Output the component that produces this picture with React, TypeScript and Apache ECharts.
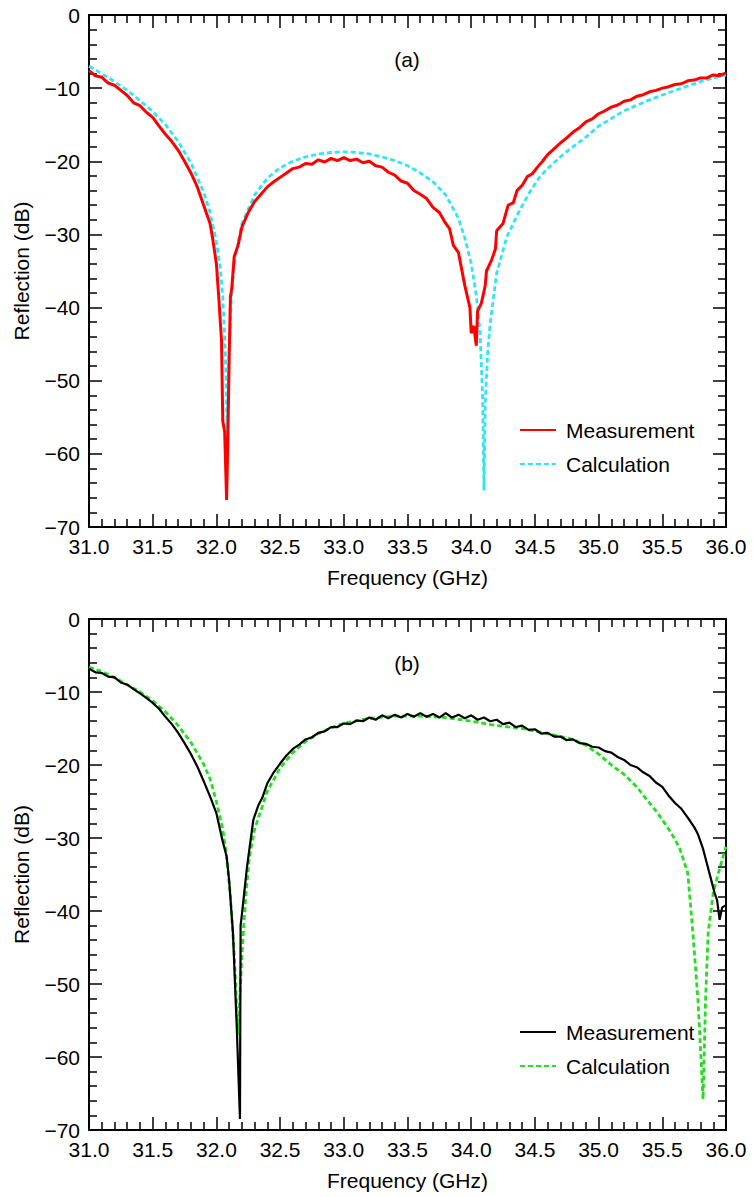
import { useEffect, useRef } from 'react';
import * as echarts from 'echarts';

// ---------- Data ----------
const X_MIN = 31.0;
const X_MAX = 36.0;
const X_STEP = 0.5;
const Y_MIN = -70;
const Y_MAX = 0;
const Y_STEP = 10;

// Panel (a) measurement (red)
const measAFreq = [
  31.0, 31.05, 31.1, 31.15, 31.2, 31.25, 31.3, 31.35, 31.4, 31.45, 31.5, 31.55, 31.6, 31.65, 31.7, 31.75,
  31.8, 31.85, 31.9, 31.95, 31.97, 32.0, 32.02, 32.04, 32.05, 32.065, 32.08, 32.09, 32.1, 32.11, 32.12,
  32.14, 32.17, 32.2, 32.25, 32.3, 32.35, 32.4, 32.45, 32.5, 32.55, 32.6, 32.65, 32.7, 32.75, 32.8, 32.85,
  32.9, 32.95, 33.0, 33.05, 33.1, 33.15, 33.2, 33.25, 33.3, 33.35, 33.4, 33.45, 33.5, 33.55, 33.6, 33.65,
  33.7, 33.75, 33.8, 33.83, 33.86, 33.9, 33.95, 33.99, 34.0, 34.02, 34.04, 34.05, 34.08, 34.11, 34.12,
  34.16, 34.19, 34.2, 34.25, 34.29, 34.33, 34.36, 34.4, 34.44, 34.48, 34.52, 34.56, 34.6, 34.65, 34.7,
  34.75, 34.8, 34.85, 34.9, 34.95, 35.0, 35.05, 35.1, 35.15, 35.2, 35.25, 35.3, 35.35, 35.4, 35.45, 35.5,
  35.55, 35.6, 35.65, 35.7, 35.75, 35.8, 35.85, 35.9, 35.95, 36.0,
];
const measADb = [
  -7.6, -8.3, -8.5, -9.3, -9.6, -10.3, -11.0, -12.0, -12.4, -13.3, -14.0, -15.2, -16.3, -17.3, -18.5, -20.0,
  -21.6, -23.5, -26.0, -28.5, -30.5, -34.0, -39.0, -44.5, -55.5, -57.0, -66.3, -58.0, -47.0, -38.5, -37.5,
  -33.0, -31.5, -29.0, -27.0, -25.5, -24.5, -23.5, -22.8, -22.2, -21.6, -21.0, -20.8, -20.3, -20.4, -19.8, -20.1,
  -19.6, -19.9, -19.5, -19.9, -19.7, -20.2, -20.0, -20.6, -20.8, -21.5, -21.9, -22.7, -23.0, -24.0, -24.5, -25.1,
  -26.3, -27.0, -28.5, -29.2, -31.5, -32.5, -37.0, -40.0, -43.5, -42.5, -45.2, -40.5, -39.4, -37.0, -35.0,
  -33.5, -32.0, -29.5, -28.5, -26.0, -25.7, -24.0, -23.3, -22.1, -21.7, -20.8, -20.0, -19.1, -18.3, -17.5,
  -16.8, -16.0, -15.4, -14.6, -14.2, -13.5, -13.1, -12.6, -12.3, -11.8, -11.6, -11.1, -10.9, -10.5, -10.3, -10.0,
  -9.8, -9.5, -9.4, -9.0, -8.9, -8.6, -8.6, -8.2, -8.3, -7.9,
];

// Panel (a) calculation (cyan)
const calcAFreq = [
  31.0, 31.1, 31.2, 31.3, 31.4, 31.5, 31.6, 31.7, 31.8, 31.9, 31.95, 32.0, 32.03, 32.05, 32.07, 32.085,
  32.1, 32.12, 32.15, 32.2, 32.3, 32.4, 32.5, 32.6, 32.7, 32.8, 32.9, 33.0, 33.1, 33.2, 33.3, 33.4, 33.5,
  33.6, 33.7, 33.8, 33.9, 33.95, 34.0, 34.04, 34.07, 34.09, 34.1, 34.11, 34.13, 34.15, 34.2, 34.28, 34.38,
  34.46, 34.54, 34.6, 34.7, 34.8, 34.9, 35.0, 35.2, 35.4, 35.6, 35.8, 36.0,
];
const calcADb = [
  -7.0, -8.0, -9.1, -10.3, -11.7, -13.2, -15.0, -17.3, -20.2, -24.2, -27.0, -31.0, -34.5, -38.5, -46.0, -57.0,
  -46.0, -38.0, -33.0, -28.5, -24.6, -22.3, -20.9, -20.0, -19.4, -19.0, -18.8, -18.7, -18.8, -19.0, -19.4, -19.9, -20.6,
  -21.6, -22.8, -24.6, -27.8, -30.5, -34.0, -38.3, -43.5, -52.6, -65.0, -53.0, -46.0, -42.0, -35.3, -30.3, -26.7,
  -24.2, -22.1, -21.0, -19.4, -18.0, -16.7, -15.2, -13.1, -11.6, -10.3, -9.1, -8.2,
];

// Panel (b) measurement (black)
const measBFreq = [
  31.0, 31.05, 31.1, 31.15, 31.2, 31.25, 31.3, 31.35, 31.4, 31.45, 31.5, 31.55, 31.6, 31.65, 31.7, 31.75,
  31.8, 31.85, 31.9, 31.95, 32.0, 32.05, 32.08, 32.1, 32.13, 32.16, 32.185, 32.19, 32.2, 32.24, 32.29,
  32.33, 32.36, 32.4, 32.45, 32.5, 32.55, 32.6, 32.65, 32.7, 32.75, 32.8, 32.85, 32.9, 32.95, 33.0, 33.05,
  33.1, 33.15, 33.2, 33.25, 33.3, 33.35, 33.4, 33.45, 33.5, 33.55, 33.6, 33.65, 33.7, 33.75, 33.8, 33.85,
  33.9, 33.95, 34.0, 34.05, 34.1, 34.15, 34.2, 34.25, 34.3, 34.35, 34.4, 34.45, 34.5, 34.55, 34.6, 34.65,
  34.7, 34.75, 34.8, 34.85, 34.9, 34.95, 35.0, 35.05, 35.1, 35.15, 35.2, 35.25, 35.3, 35.35, 35.4, 35.45,
  35.5, 35.55, 35.6, 35.65, 35.7, 35.75, 35.78, 35.82, 35.85, 35.88, 35.91, 35.93, 35.95, 35.97, 36.0,
];
const measBDb = [
  -6.8, -7.3, -7.4, -7.9, -8.0, -8.7, -9.0, -9.6, -10.2, -10.8, -11.5, -12.3, -13.4, -14.4, -15.6, -17.0,
  -18.5, -20.2, -22.2, -24.3, -26.6, -30.5, -32.5, -35.8, -43.0, -56.0, -68.5, -42.0, -40.5, -34.0, -27.5,
  -25.5, -24.5, -22.5, -21.0, -19.8, -18.7, -17.8, -17.2, -16.5, -16.2, -15.6, -15.4, -14.8, -14.8, -14.3, -14.4,
  -13.9, -14.0, -13.5, -13.8, -13.2, -13.6, -13.1, -13.5, -13.0, -13.4, -12.9, -13.4, -13.0, -13.5, -12.9, -13.5,
  -13.1, -13.6, -13.2, -13.8, -13.5, -14.0, -13.8, -14.4, -14.2, -14.8, -14.6, -15.2, -15.1, -15.7, -15.6, -16.1,
  -16.1, -16.6, -16.5, -17.0, -17.1, -17.5, -17.6, -18.1, -18.3, -18.9, -19.3, -20.0, -20.3, -21.0, -21.5, -22.4,
  -23.0, -24.2, -25.2, -26.0, -27.2, -28.5, -29.5, -31.5, -33.5, -35.5, -37.5, -38.5, -41.2, -39.5, -39.2,
];

// Panel (b) calculation (green)
const calcBFreq = [
  31.0, 31.1, 31.2, 31.3, 31.4, 31.5, 31.6, 31.7, 31.8, 31.9, 31.95, 32.0, 32.05, 32.08, 32.11, 32.14,
  32.17, 32.2, 32.23, 32.26, 32.3, 32.4, 32.5, 32.6, 32.7, 32.8, 32.9, 33.0, 33.2, 33.4, 33.6, 33.8, 34.0,
  34.2, 34.4, 34.6, 34.8, 34.9, 35.0, 35.1, 35.2, 35.3, 35.38, 35.46, 35.54, 35.6, 35.64, 35.7, 35.74,
  35.78, 35.82, 35.84, 35.86, 35.9, 35.94, 36.0,
];
const calcBDb = [
  -6.6, -7.2, -8.0, -9.0, -10.0, -11.2, -12.7, -14.6, -16.9, -19.9, -21.9, -25.0, -28.8, -32.5, -38.0, -46.0,
  -57.0, -46.0, -38.0, -32.5, -28.8, -23.6, -20.4, -18.3, -16.8, -15.7, -14.9, -14.3, -13.6, -13.3, -13.3, -13.5, -14.0,
  -14.6, -15.0, -15.7, -16.5, -17.3, -18.5, -20.0, -21.3, -23.0, -24.8, -26.5, -28.5, -30.2, -31.6, -34.8, -43.0,
  -52.2, -65.8, -52.0, -43.0, -37.5, -34.8, -31.2,
];

const LEGEND_MEAS = 'Measurement';
const LEGEND_CALC = 'Calculation';
const X_NAME = 'Frequency (GHz)';
const Y_NAME = 'Reflection (dB)';

// ---------- Styling ----------
const FONT = "'Liberation Sans', Arial, Helvetica, sans-serif";
const FS = 21;

const zip = (xs: number[], ys: number[]) => xs.map((x, i) => [x, ys[i]]);
const fmtY = (v: number) => (v < 0 ? '\u2212' + Math.abs(v) : String(v));

const tickStyle = { color: '#000', width: 1.5 };
const lineAxis = { onZero: false, lineStyle: { color: '#000', width: 2 } };

function makeX(gridIndex: number, bottom: boolean) {
  return {
    type: 'value',
    gridIndex,
    position: bottom ? 'bottom' : 'top',
    min: X_MIN,
    max: X_MAX,
    interval: X_STEP,
    axisLine: lineAxis,
    axisTick: { show: true, inside: true, length: 13, lineStyle: tickStyle },
    minorTick: { show: true, splitNumber: 5, length: 8, lineStyle: tickStyle },
    splitLine: { show: false },
    minorSplitLine: { show: false },
    axisLabel: {
      show: bottom,
      margin: 9,
      color: '#000',
      fontSize: FS,
      fontFamily: FONT,
      formatter: (v: number) => v.toFixed(1),
    },
    name: bottom ? X_NAME : '',
    nameLocation: 'middle',
    nameGap: 40,
    nameTextStyle: { color: '#000', fontSize: FS, fontFamily: FONT },
  };
}

function makeY(gridIndex: number, left: boolean) {
  return {
    type: 'value',
    gridIndex,
    position: left ? 'left' : 'right',
    min: Y_MIN,
    max: Y_MAX,
    interval: Y_STEP,
    axisLine: lineAxis,
    axisTick: { show: true, inside: true, length: 13, lineStyle: tickStyle },
    minorTick: { show: true, splitNumber: 5, length: 8, lineStyle: tickStyle },
    splitLine: { show: false },
    minorSplitLine: { show: false },
    axisLabel: {
      show: left,
      margin: 9,
      color: '#000',
      fontSize: FS,
      fontFamily: FONT,
      formatter: fmtY,
    },
    name: left ? Y_NAME : '',
    nameLocation: 'middle',
    nameGap: 57,
    nameTextStyle: { color: '#000', fontSize: FS, fontFamily: FONT },
  };
}

function makeLegend(suffix: string, top: number) {
  return {
    orient: 'vertical',
    left: 514,
    top,
    itemWidth: 36,
    itemHeight: 14,
    itemGap: 10,
    selectedMode: false,
    itemStyle: { opacity: 0 },
    data: [LEGEND_MEAS + suffix, LEGEND_CALC + suffix],
    formatter: (n: string) => n.replace(/ \([ab]\)$/, ''),
    textStyle: { color: '#000', fontSize: FS, fontFamily: FONT, lineHeight: 24, padding: [0, 0, 0, 5] },
  };
}

const option = {
  animation: false,
  backgroundColor: '#fff',
  grid: [
    { left: 89, top: 15, width: 637, height: 512 },
    { left: 89, top: 619, width: 637, height: 511 },
  ],
  xAxis: [makeX(0, true), makeX(0, false), makeX(1, true), makeX(1, false)],
  yAxis: [makeY(0, true), makeY(0, false), makeY(1, true), makeY(1, false)],
  legend: [makeLegend(' (a)', 413), makeLegend(' (b)', 1015)],
  graphic: [
    {
      type: 'text',
      x: 407,
      y: 59,
      style: { text: '(a)', fill: '#000', fontSize: FS, fontFamily: FONT, textAlign: 'center', textVerticalAlign: 'middle' },
    },
    {
      type: 'text',
      x: 407,
      y: 663,
      style: { text: '(b)', fill: '#000', fontSize: FS, fontFamily: FONT, textAlign: 'center', textVerticalAlign: 'middle' },
    },
  ],
  series: [
    {
      name: LEGEND_CALC + ' (a)',
      type: 'line',
      xAxisIndex: 0,
      yAxisIndex: 0,
      data: zip(calcAFreq, calcADb),
      symbol: 'none',
      showSymbol: false,
      lineStyle: { color: '#2FE6F8', width: 2.8, type: [5, 3] },
      itemStyle: { color: '#2FE6F8' },
    },
    {
      name: LEGEND_MEAS + ' (a)',
      type: 'line',
      xAxisIndex: 0,
      yAxisIndex: 0,
      data: zip(measAFreq, measADb),
      symbol: 'none',
      showSymbol: false,
      lineStyle: { color: '#FF0000', width: 3 },
      itemStyle: { color: '#FF0000' },
    },
    {
      name: LEGEND_CALC + ' (b)',
      type: 'line',
      xAxisIndex: 2,
      yAxisIndex: 2,
      data: zip(calcBFreq, calcBDb),
      symbol: 'none',
      showSymbol: false,
      lineStyle: { color: '#22E01E', width: 2.8, type: [5, 3] },
      itemStyle: { color: '#22E01E' },
    },
    {
      name: LEGEND_MEAS + ' (b)',
      type: 'line',
      xAxisIndex: 2,
      yAxisIndex: 2,
      data: zip(measBFreq, measBDb),
      symbol: 'none',
      showSymbol: false,
      lineStyle: { color: '#000000', width: 2.2 },
      itemStyle: { color: '#000000' },
    },
  ],
};

export default function App() {
  const ref = useRef<HTMLDivElement>(null);
  useEffect(() => {
    document.body.style.margin = '0';
    const chart = echarts.init(ref.current as HTMLDivElement, null, { renderer: 'svg' });
    chart.setOption(option as any);
    return () => chart.dispose();
  }, []);
  return <div ref={ref} style={{ width: 755, height: 1197 }} />;
}
